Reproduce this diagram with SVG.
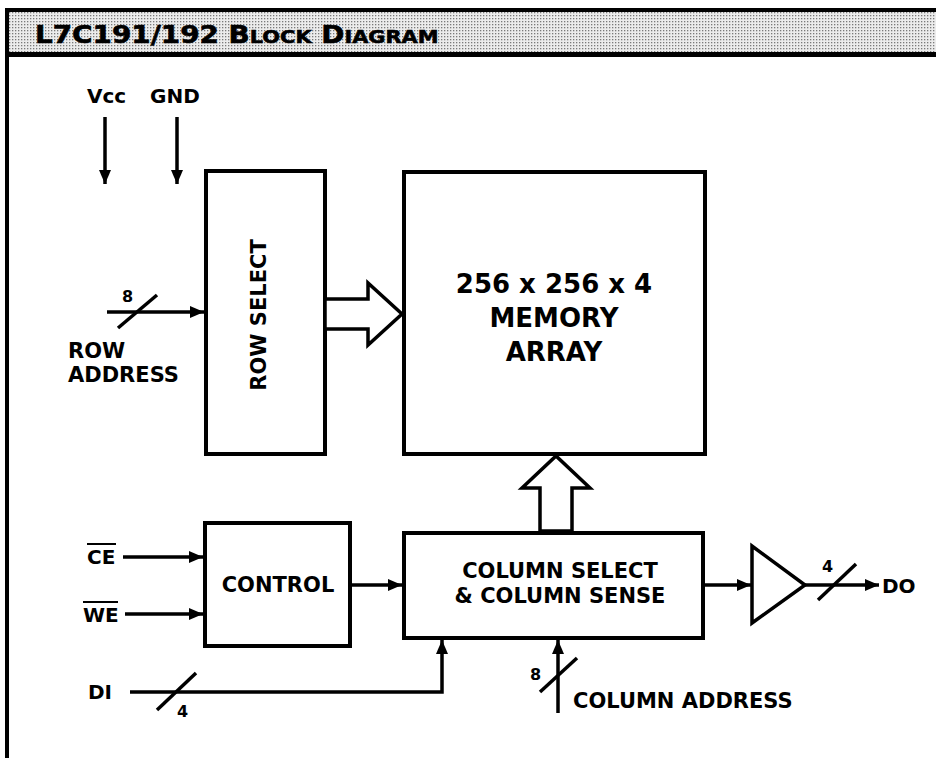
<svg xmlns="http://www.w3.org/2000/svg" width="936" height="758" viewBox="0 0 936 758">
<style>
text{font-family:"DejaVu Sans","Liberation Sans",Arial,sans-serif;font-weight:bold;fill:#000}
.box{fill:#fff;stroke:#000;stroke-width:4}
.ln{fill:none;stroke:#000;stroke-width:3.5}
.hol{fill:#fff;stroke:#000;stroke-width:3.5;stroke-linejoin:miter}
.lbl{font-size:20px}
.big{font-size:21px}
.num{font-size:16px}
.mid{text-anchor:middle}
</style>
<defs>
<marker id="ah" viewBox="0 0 14 12" refX="14" refY="6" markerWidth="14" markerHeight="12" markerUnits="userSpaceOnUse" orient="auto"><path d="M0,0 L14,6 L0,12 z" fill="#000"/></marker>
<pattern id="dots" width="3" height="3" patternUnits="userSpaceOnUse"><rect width="3" height="3" fill="#ececec"/><rect width="1.3" height="1.3" fill="#7a7a7a"/></pattern>
</defs>
<g id="frame">
<rect x="5" y="12" width="931" height="41" fill="url(#dots)"/>
<rect x="5" y="8" width="931" height="4" fill="#000"/>
<rect x="5" y="52" width="931" height="5" fill="#000"/>
<rect x="5" y="8" width="4" height="750" fill="#000"/>
<text transform="translate(35,43) scale(1.16,1)" style="font-size:24px;stroke:#000;stroke-width:0.6">L7C191/192 B<tspan style="font-size:18px">LOCK</tspan> D<tspan style="font-size:18px">IAGRAM</tspan></text>
</g>
<g id="labels">
<text class="lbl" x="87" y="103">Vcc</text>
<text class="lbl" x="150" y="103">GND</text>
<text class="num" x="122" y="302">8</text>
<text class="big" x="68" y="358">ROW</text>
<text class="big" x="68" y="382">ADDRESS</text>
<text class="lbl" x="87" y="564">CE</text>
<rect x="87" y="543" width="29" height="2"/>
<text class="lbl" x="83" y="622">WE</text>
<rect x="83" y="601" width="35" height="2"/>
<text class="lbl" x="88" y="699">DI</text>
<text class="num" x="177" y="717">4</text>
<text class="num" x="530" y="680">8</text>
<text class="big" x="573" y="708">COLUMN ADDRESS</text>
<text class="num" x="822" y="572">4</text>
<text class="lbl" x="882" y="593">DO</text>
</g>
<g id="row-select">
<rect class="box" x="206" y="171" width="119" height="283"/>
<text class="big mid" transform="translate(266,315) rotate(-90)">ROW SELECT</text>
</g>
<g id="memory-array">
<rect class="box" x="404" y="172" width="301" height="282"/>
<text class="mid" style="font-size:26px" x="554" y="293">256 x 256 x 4</text>
<text class="mid" style="font-size:26px" x="554" y="327">MEMORY</text>
<text class="mid" style="font-size:26px" x="554" y="361">ARRAY</text>
</g>
<g id="control">
<rect class="box" x="205" y="523" width="145" height="123"/>
<text class="big mid" x="278" y="592">CONTROL</text>
</g>
<g id="column-select">
<rect class="box" x="404" y="533" width="299" height="105"/>
<text class="big mid" x="560" y="578">COLUMN SELECT</text>
<text class="big mid" x="560" y="603">&amp; COLUMN SENSE</text>
</g>
<g id="buffer">
<polygon class="hol" points="752,546 752,623 805,585"/>
</g>
<g id="connectors">
<line class="ln" x1="105" y1="117" x2="105" y2="184" marker-end="url(#ah)"/>
<line class="ln" x1="177" y1="117" x2="177" y2="184" marker-end="url(#ah)"/>
<line class="ln" x1="107" y1="312" x2="204" y2="312" marker-end="url(#ah)"/>
<line class="ln" x1="118" y1="328" x2="157" y2="295"/>
<polygon class="hol" points="325,299 368,299 368,283 402,314 368,345 368,329 325,329"/>
<polygon class="hol" points="540,531 540,488 522,488 556,456 590,488 572,488 572,531"/>
<line class="ln" x1="123" y1="557" x2="203" y2="557" marker-end="url(#ah)"/>
<line class="ln" x1="125" y1="614" x2="203" y2="614" marker-end="url(#ah)"/>
<line class="ln" x1="350" y1="585" x2="402" y2="585" marker-end="url(#ah)"/>
<polyline class="ln" points="130,692 442,692 442,640" marker-end="url(#ah)"/>
<line class="ln" x1="157" y1="710" x2="196" y2="673"/>
<line class="ln" x1="558" y1="713" x2="558" y2="640" marker-end="url(#ah)"/>
<line class="ln" x1="540" y1="692" x2="577" y2="658"/>
<line class="ln" x1="703" y1="585" x2="751" y2="585" marker-end="url(#ah)"/>
<line class="ln" x1="805" y1="585" x2="879" y2="585" marker-end="url(#ah)"/>
<line class="ln" x1="818" y1="600" x2="856" y2="564"/>
</g>
</svg>
